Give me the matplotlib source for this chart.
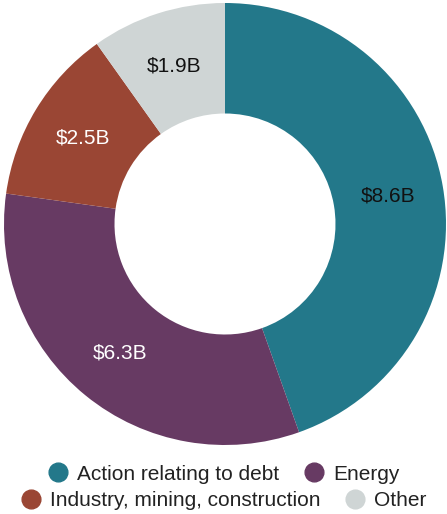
import matplotlib.pyplot as plt
from matplotlib.lines import Line2D

plt.rcParams['font.family'] = ['Liberation Sans', 'DejaVu Sans']

# Funding by category, in billions of dollars
categories = ["Action relating to debt", "Energy", "Industry, mining, construction", "Other"]
values = [8.6, 6.3, 2.5, 1.9]
colors = ["#23788a", "#673a63", "#9a4634", "#cfd5d5"]
label_colors = ["#111111", "white", "white", "#111111"]

fig = plt.figure(figsize=(4.47, 5.14), dpi=100)
ax = fig.add_axes([4 / 447, 69 / 514, 442 / 447, 442 / 514])

wedges, texts = ax.pie(
    values,
    colors=colors,
    startangle=90,
    counterclock=False,
    radius=1.0,
    wedgeprops=dict(width=0.5, linewidth=0),
    labels=[f"${v}B" for v in values],
    labeldistance=0.75,
    textprops=dict(fontsize=15),
)
for t, c in zip(texts, label_colors):
    t.set_color(c)
    t.set_horizontalalignment("center")
    t.set_verticalalignment("center")
ax.set_aspect("equal")
ax.set_xlim(-1, 1)
ax.set_ylim(-1, 1)

def make_handle(color, label):
    return Line2D([], [], marker="o", linestyle="none", markersize=13.5,
                  markerfacecolor=color, markeredgecolor=color, label=label)

# two centred legend rows under the donut
rows = [(0, 1, 474), (2, 3, 501)]
for a, b, ypix in rows:
    handles = [make_handle(colors[i], categories[i]) for i in (a, b)]
    fig.legend(handles=handles, loc="center", bbox_to_anchor=(0.5, 1 - ypix / 514),
               ncol=2, frameon=False, fontsize=15, handlelength=1.0,
               handletextpad=0.4, columnspacing=1.2, borderpad=0, labelcolor="#222222")

fig.savefig("out.png", dpi=100)
